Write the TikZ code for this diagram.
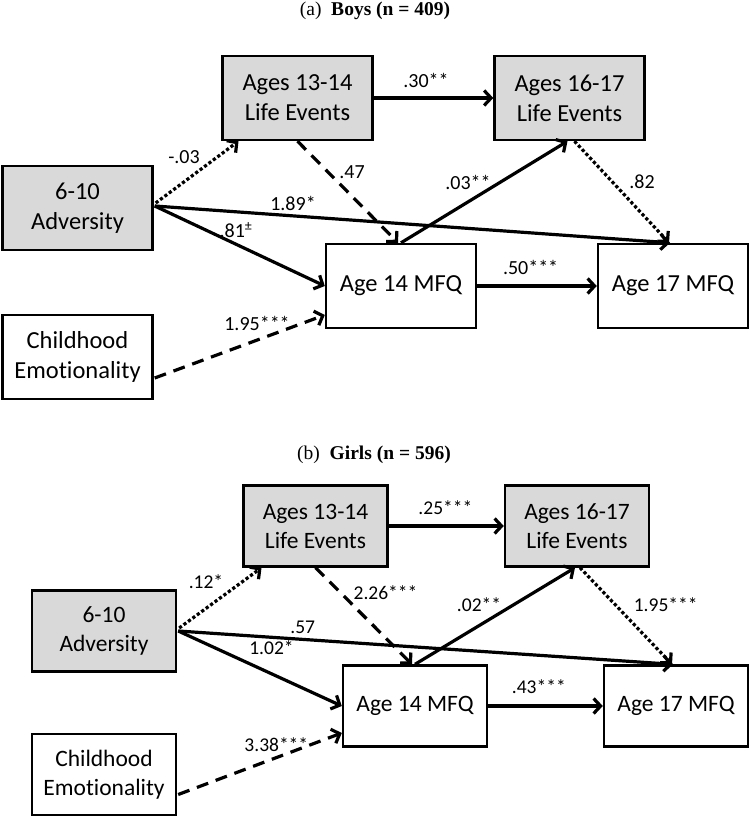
\documentclass[tikz,border=0pt]{standalone}
\usepackage{fontspec}
\setmainfont[Ligatures=NoCommon]{Carlito}
\newfontfamily\titlefont{Liberation Serif}
\usetikzlibrary{arrows.meta,calc}
\begin{document}
\begin{tikzpicture}[x=1pt,y=-1pt,
  boxa/.style={draw,line width=2.4pt,minimum width=150pt,minimum height=84pt,align=center,inner sep=0pt,font=\fontsize{24.5}{30}\selectfont},
  boxb/.style={draw,line width=2.4pt,minimum width=144pt,minimum height=81pt,align=center,inner sep=0pt,font=\fontsize{23.5}{29}\selectfont},
  shaded/.style={fill=black!15},
  lab/.style={inner sep=0pt,font=\fontsize{20}{20}\selectfont},
  labb/.style={inner sep=0pt,font=\fontsize{19.5}{19.5}\selectfont},
  ttl/.style={inner sep=0pt,font=\titlefont\fontsize{19.5}{19.5}\selectfont},
  arr/.style={line width=3.2pt,-{Straight Barb[length=7pt,width=15pt]}},
  dashline/.style={arr,dash pattern=on 12pt off 8pt},
  dotline/.style={arr,line width=3.2pt,dash pattern=on 3.2pt off 2.3pt}]
\useasboundingbox (0,0) rectangle (751,818);

% ---------- panel (a)
\node[ttl] (ta) at (375,11) {(a)\enspace\textbf{Boys (n = 409)}};
\node[boxa,shaded] (le1a) at (297.5,98) {Ages 13-14\\Life Events};
\node[boxa,shaded] (le2a) at (569.5,98) {Ages 16-17\\Life Events};
\node[boxa,shaded] (adva) at (77.5,208) {6-10\\Adversity};
\node[boxa] (mfq14a) at (401,286) {Age 14 MFQ};
\node[boxa] (mfq17a) at (673,286) {Age 17 MFQ};
\node[boxa] (chila) at (77.5,357) {Childhood\\Emotionality};

\draw[dotline] ($(adva.east)+(2,-5)$) -- ($(le1a.south)+(-59,0)$);
\draw[arr] ($(adva.east)+(1,-2)$) -- ($(mfq17a.north)+(-3,0)$);
\draw[arr] ($(adva.east)+(1,-2)$) -- (mfq14a.west);
\draw[dashline] (le1a.south) -- ($(mfq14a.north)+(-3,0)$);
\draw[arr] (mfq14a.north) -- ($(le2a.south)+(-2,0)$);
\draw[dotline] ($(le2a.south)+(5,0)$) -- ($(mfq17a.north)+(-4,0)$);
\draw[arr] (mfq14a.east) -- (mfq17a.west);
\draw[arr] (le1a.east) -- (le2a.west);
\draw[dashline] ($(chila.east)+(1,21)$) -- ($(mfq14a.west)+(0,29)$);

\node[lab] (l1a) at (426,80) {.30**};
\node[lab] (l2a) at (184,157) {-.03};
\node[lab] (l3a) at (352,172) {.47};
\node[lab] (l4a) at (468,182) {.03**};
\node[lab] (l5a) at (642,182) {.82};
\node[lab] (l6a) at (293,203) {1.89*};
\node[lab] (l7a) at (236,230) {.81\textsuperscript{±}};
\node[lab] (l8a) at (530.6,267) {.50***};
\node[lab] (l9a) at (257,323) {1.95***};

% ---------- panel (b)
\node[ttl] (tb) at (374,455) {(b)\enspace\textbf{Girls (n = 596)}};
\node[boxb,shaded] (le1b) at (315.5,526) {Ages 13-14\\Life Events};
\node[boxb,shaded] (le2b) at (577,526) {Ages 16-17\\Life Events};
\node[boxb,shaded] (advb) at (104,631) {6-10\\Adversity};
\node[boxb] (mfq14b) at (415,706) {Age 14 MFQ};
\node[boxb] (mfq17b) at (676,706) {Age 17 MFQ};
\node[boxb] (chilb) at (104,774.5) {Childhood\\Emotionality};

\draw[dotline] ($(advb.east)+(2,-3)$) -- ($(le1b.south)+(-54,0)$);
\draw[arr] ($(advb.east)+(1,0)$) -- ($(mfq17b.north)+(-3,0)$);
\draw[arr] ($(advb.east)+(1,0)$) -- (mfq14b.west);
\draw[dashline] (le1b.south) -- ($(mfq14b.north)+(-3,0)$);
\draw[arr] (mfq14b.north) -- ($(le2b.south)+(-2,0)$);
\draw[dotline] ($(le2b.south)+(3,0)$) -- ($(mfq17b.north)+(-4,0)$);
\draw[arr] (mfq14b.east) -- (mfq17b.west);
\draw[arr] (le1b.east) -- (le2b.west);
\draw[dashline] ($(chilb.east)+(1,20)$) -- ($(mfq14b.west)+(0,27)$);

\node[labb] (l1b) at (445.4,508) {.25***};
\node[labb] (l2b) at (206,582) {.12*};
\node[labb] (l3b) at (385.5,593) {2.26***};
\node[labb] (l4b) at (479,605) {.02**};
\node[labb] (l5b) at (665.7,605) {1.95***};
\node[labb] (l6b) at (302.7,627) {.57};
\node[labb] (l7b) at (271.5,648) {1.02*};
\node[labb] (l8b) at (538.8,687) {.43***};
\node[labb] (l9b) at (276.3,745) {3.38***};
\end{tikzpicture}
\end{document}
